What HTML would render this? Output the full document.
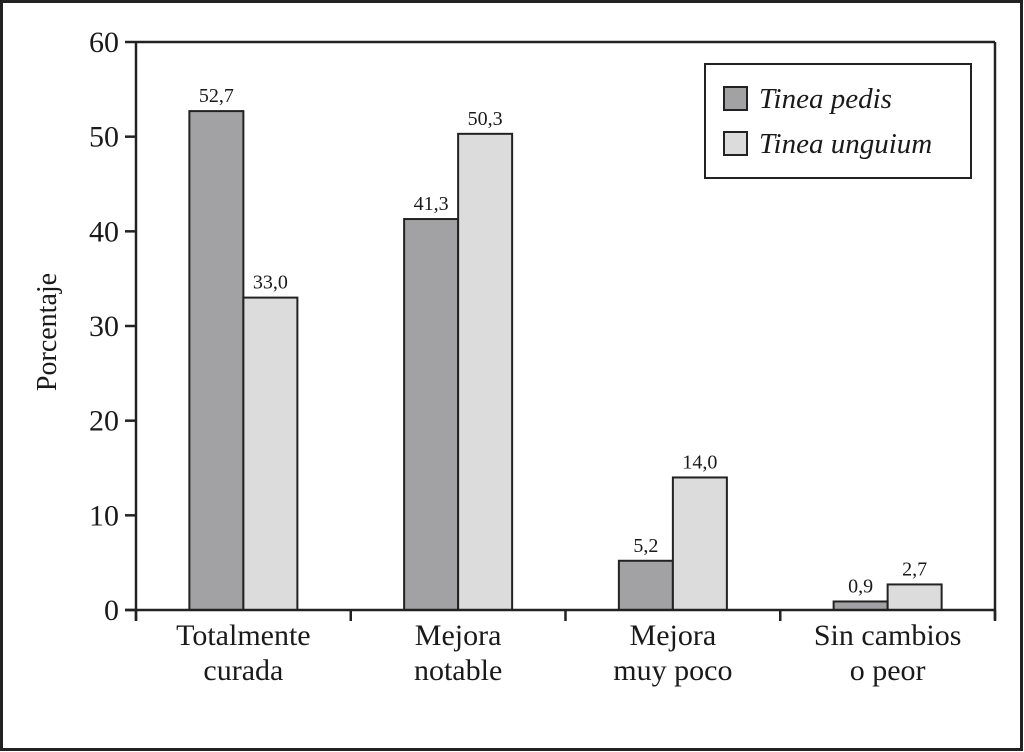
<!DOCTYPE html>
<html><head><meta charset="utf-8"><style>
body{margin:0;background:#fff}
svg{display:block;font-family:"Liberation Serif",serif}
</style></head><body>
<svg width="1024" height="752" viewBox="0 0 1024 752">
<rect x="1.5" y="1.5" width="1020" height="748" fill="#fff" stroke="#222" stroke-width="3"/>
<g id="plot"></g>
</svg>
<script>
const categories=[["Totalmente","curada"],["Mejora","notable"],["Mejora","muy poco"],["Sin cambios","o peor"]];
const pedis=[52.7,41.3,5.2,0.9];
const unguium=[33.0,50.3,14.0,2.7];
const yTicks=[0,10,20,30,40,50,60];
const seriesNames=["Tinea pedis","Tinea unguium"];
const NS="http://www.w3.org/2000/svg";
const g=document.getElementById('plot');
const L=136,R=995,T=42,B=610;
function y(v){return B-(v/60)*(B-T);}
const bw=(R-L)/categories.length;
function cx(i){return L+bw*(i+0.5);}
function el(t,a,txt){const e=document.createElementNS(NS,t);for(const k in a)e.setAttribute(k,a[k]);if(txt!==undefined)e.textContent=txt;g.appendChild(e);return e;}
function fmt(v){return v.toFixed(1).replace('.',',');}
let e=el('line',{x1:L,y1:T,x2:R,y2:T,stroke:'#222','stroke-width':2.5});

e=el('line',{x1:R,y1:T,x2:R,y2:B+10,stroke:'#222','stroke-width':2.5});

yTicks.forEach(t=>{
 let l=el('line',{x1:L-11,y1:y(t),x2:L,y2:y(t),stroke:'#222','stroke-width':2.5});
 
 let tx=el('text',{x:L-17,y:y(t)+10,'text-anchor':'end','font-size':30,fill:'#1a1a1a'},String(t));
 
});
const dbw=54;
categories.forEach((c,i)=>{
 const vals=[pedis[i],unguium[i]],fills=['#a2a2a4','#dcdcdc'];
 vals.forEach((v,j)=>{
  const x=cx(i)-dbw+j*dbw;
  let r=el('rect',{x:x,y:y(v),width:dbw,height:B-y(v),fill:fills[j],stroke:'#222','stroke-width':2});
  
  let t=el('text',{x:x+dbw/2,y:y(v)-9,'text-anchor':'middle','font-size':20,fill:'#1a1a1a'},fmt(v));
  
 });
 c.forEach((s,k)=>{
  let t=el('text',{x:cx(i),y:645+k*35,'text-anchor':'middle','font-size':30,fill:'#1a1a1a'},s);
  
 });
});
for(let i=0;i<=categories.length;i++){
 let l=el('line',{x1:L+bw*i,y1:B,x2:L+bw*i,y2:B+11,stroke:'#222','stroke-width':2.5});
 
}
e=el('line',{x1:L,y1:T,x2:L,y2:B+11,stroke:'#222','stroke-width':2.5});

e=el('line',{x1:L-11,y1:B,x2:R,y2:B,stroke:'#222','stroke-width':2.5});

e=el('text',{x:56,y:332,'text-anchor':'middle','font-size':28,fill:'#1a1a1a',transform:'rotate(-90 56 332)'},'Porcentaje');

e=el('rect',{x:705,y:64,width:266,height:114,fill:'#fff',stroke:'#222','stroke-width':2});

seriesNames.forEach((n,j)=>{
 let s=el('rect',{x:724,y:87+j*45,width:23,height:23,fill:j?'#dcdcdc':'#a2a2a4',stroke:'#222','stroke-width':2});
 
 let t=el('text',{x:759,y:108+j*45,'font-size':29,'font-style':'italic',fill:'#1a1a1a'},n);
 
});
</script>
</body></html>
